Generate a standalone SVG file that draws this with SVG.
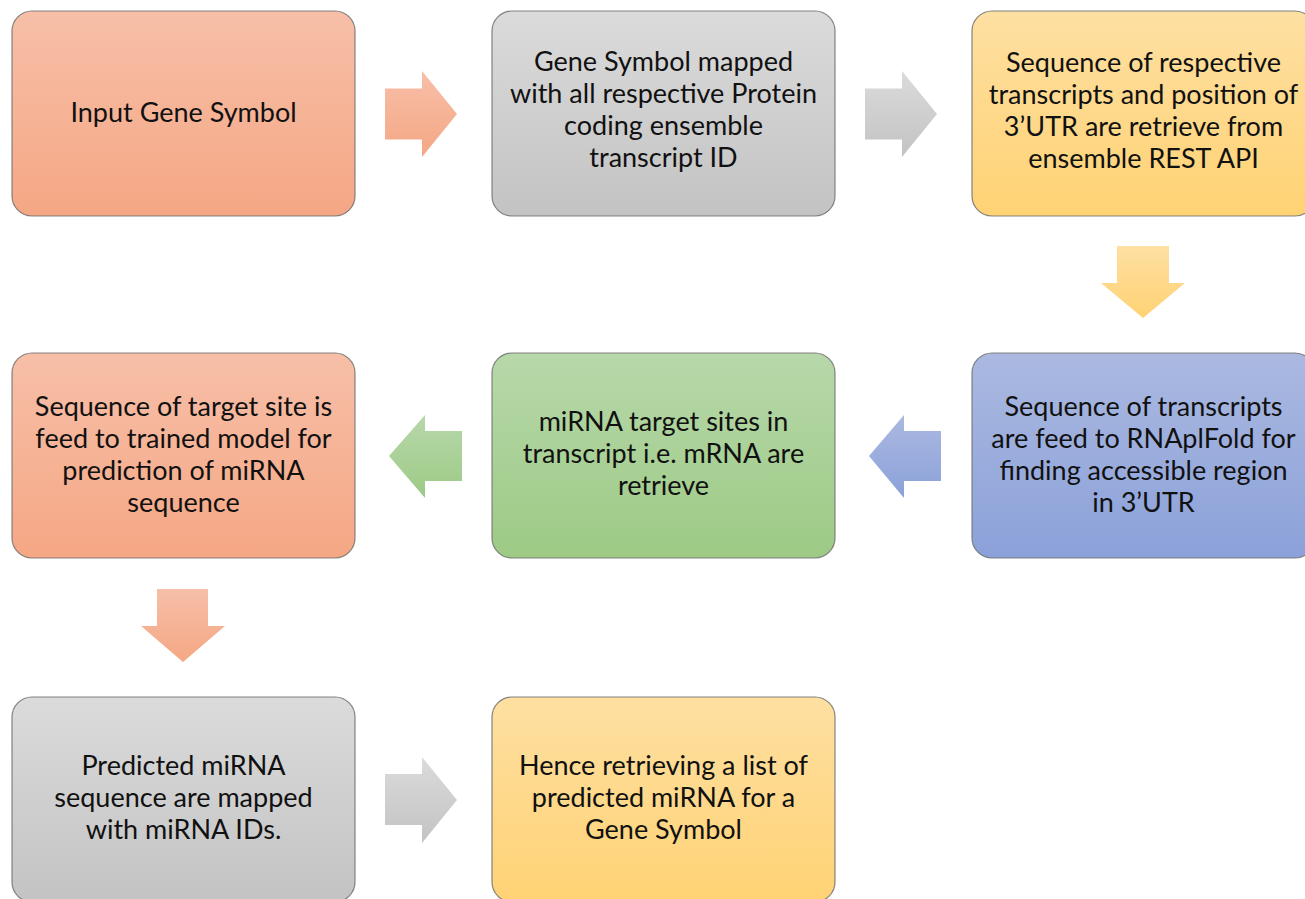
<svg xmlns="http://www.w3.org/2000/svg" width="1305" height="899" viewBox="0 0 1305 899">
  <defs>
    <linearGradient id="gSalmon" x1="0" y1="0" x2="0" y2="1">
      <stop offset="0" stop-color="#F7BFA8"/>
      <stop offset="1" stop-color="#F5A784"/>
    </linearGradient>
    <linearGradient id="gGray" x1="0" y1="0" x2="0" y2="1">
      <stop offset="0" stop-color="#DBDBDB"/>
      <stop offset="1" stop-color="#C3C3C3"/>
    </linearGradient>
    <linearGradient id="gYellow" x1="0" y1="0" x2="0" y2="1">
      <stop offset="0" stop-color="#FEE0A2"/>
      <stop offset="1" stop-color="#FFD274"/>
    </linearGradient>
    <linearGradient id="gBlue" x1="0" y1="0" x2="0" y2="1">
      <stop offset="0" stop-color="#ABB9E1"/>
      <stop offset="1" stop-color="#8BA1D9"/>
    </linearGradient>
    <linearGradient id="gGreen" x1="0" y1="0" x2="0" y2="1">
      <stop offset="0" stop-color="#B7D8AA"/>
      <stop offset="1" stop-color="#9DCA85"/>
    </linearGradient>
    <style>
      .box { stroke: #707070; stroke-width: 1.2; stroke-opacity: 0.85; }
      .lbl { font-family: Lato, "Open Sans", "Liberation Sans", sans-serif; font-size: 27px; fill: #111111; text-anchor: middle; }
    </style>
  </defs>

  <rect width="1305" height="899" fill="#FFFFFF"/>

  <!-- block arrows between the steps -->
  <g id="connectors">
    <polygon fill="url(#gSalmon)" points="385,88.5 422,88.5 422,71 457,114 422,157 422,139.5 385,139.5"/>
    <polygon fill="url(#gGray)" points="865,88.5 902,88.5 902,71 937,114 902,157 902,139.5 865,139.5"/>
    <polygon fill="url(#gYellow)" points="1117,246 1169,246 1169,283 1185,283 1143,318 1101,283 1117,283"/>
    <polygon fill="url(#gBlue)" points="941,431 904,431 904,415 869,456 904,498 904,481 941,481"/>
    <polygon fill="url(#gGreen)" points="462,431 425,431 425,415 389,456 425,498 425,481 462,481"/>
    <polygon fill="url(#gSalmon)" points="157,589 208,589 208,626 225,626 183,662 141,626 157,626"/>
    <polygon fill="url(#gGray)" points="385,774 422,774 422,757 457,800 422,843 422,825 385,825"/>
  </g>

  <g id="node-input">
    <rect class="box" x="12" y="11" width="343" height="205" rx="20" fill="url(#gSalmon)"/>
    <text class="lbl" x="183.5" y="122">Input Gene Symbol</text>
  </g>

  <g id="node-mapping">
    <rect class="box" x="492" y="11" width="343" height="205" rx="20" fill="url(#gGray)"/>
    <text class="lbl" x="663.5" y="71">Gene Symbol mapped</text>
    <text class="lbl" x="663.5" y="103">with all respective Protein</text>
    <text class="lbl" x="663.5" y="135">coding ensemble</text>
    <text class="lbl" x="663.5" y="167">transcript ID</text>
  </g>

  <g id="node-rest">
    <rect class="box" x="972" y="11" width="343" height="205" rx="20" fill="url(#gYellow)"/>
    <text class="lbl" x="1143.5" y="72">Sequence of respective</text>
    <text class="lbl" x="1143.5" y="104">transcripts and position of</text>
    <text class="lbl" x="1143.5" y="136">3’UTR are retrieve from</text>
    <text class="lbl" x="1143.5" y="168">ensemble REST API</text>
  </g>

  <g id="node-rnaplfold">
    <rect class="box" x="972" y="353" width="343" height="205" rx="20" fill="url(#gBlue)"/>
    <text class="lbl" x="1143.5" y="416">Sequence of transcripts</text>
    <text class="lbl" x="1143.5" y="448">are feed to RNAplFold for</text>
    <text class="lbl" x="1143.5" y="480">finding accessible region</text>
    <text class="lbl" x="1143.5" y="512">in 3’UTR</text>
  </g>

  <g id="node-sites">
    <rect class="box" x="492" y="353" width="343" height="205" rx="20" fill="url(#gGreen)"/>
    <text class="lbl" x="663.5" y="431">miRNA target sites in</text>
    <text class="lbl" x="663.5" y="463">transcript i.e. mRNA are</text>
    <text class="lbl" x="663.5" y="495">retrieve</text>
  </g>

  <g id="node-model">
    <rect class="box" x="12" y="353" width="343" height="205" rx="20" fill="url(#gSalmon)"/>
    <text class="lbl" x="183.5" y="416">Sequence of target site is</text>
    <text class="lbl" x="183.5" y="448">feed to trained model for</text>
    <text class="lbl" x="183.5" y="480">prediction of miRNA</text>
    <text class="lbl" x="183.5" y="512">sequence</text>
  </g>

  <g id="node-ids">
    <rect class="box" x="12" y="697" width="343" height="205" rx="20" fill="url(#gGray)"/>
    <text class="lbl" x="183.5" y="775">Predicted miRNA</text>
    <text class="lbl" x="183.5" y="807">sequence are mapped</text>
    <text class="lbl" x="183.5" y="839">with miRNA IDs.</text>
  </g>

  <g id="node-result">
    <rect class="box" x="492" y="697" width="343" height="205" rx="20" fill="url(#gYellow)"/>
    <text class="lbl" x="663.5" y="775">Hence retrieving a list of</text>
    <text class="lbl" x="663.5" y="807">predicted miRNA for a</text>
    <text class="lbl" x="663.5" y="839">Gene Symbol</text>
  </g>
</svg>
